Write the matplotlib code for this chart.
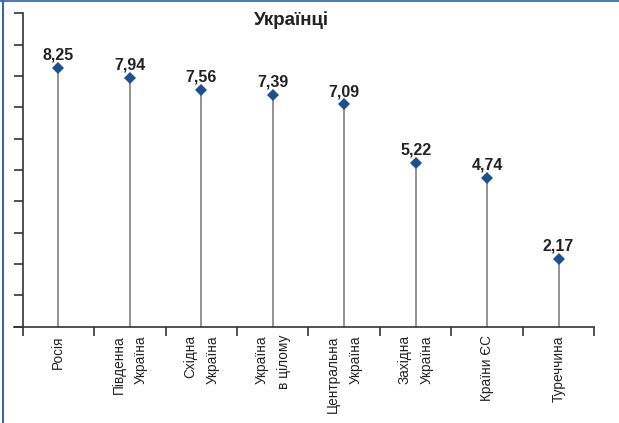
import matplotlib.pyplot as plt
from matplotlib.lines import Line2D

regions = ["Росія", "Південна\nУкраїна", "Східна\nУкраїна", "Україна\nв цілому",
           "Центральна\nУкраїна", "Західна\nУкраїна", "Країни ЄС", "Туреччина"]
scores = [8.25, 7.94, 7.56, 7.39, 7.09, 5.22, 4.74, 2.17]
score_labels = ["8,25", "7,94", "7,56", "7,39", "7,09", "5,22", "4,74", "2,17"]

plt.rcParams['font.family'] = ['Liberation Sans', 'DejaVu Sans']

fig = plt.figure(figsize=(6.19, 4.23), dpi=100)
ax = fig.add_axes([14 / 619, 1 - 326.7 / 423, 580.3 / 619, 313.4 / 423])

x = list(range(len(scores)))
ax.vlines(x, 0, scores, color='#8a8a8a', linewidth=1.3, zorder=2)
ax.plot(x, scores, linestyle='none', marker='D', markersize=6.6,
        color='#1f4f8f', markeredgewidth=0, zorder=3)

for xi, v, lab in zip(x, scores, score_labels):
    ax.annotate(lab, (xi, v), xytext=(0, 6), textcoords='offset points',
                ha='center', va='baseline', fontsize=11.5, fontweight='bold',
                family=['Liberation Sans Narrow', 'Liberation Sans', 'DejaVu Sans'],
                color='#222222')

ax.set_xlim(-0.62, 7.5)
ax.set_ylim(0, 10)

for s in ['top', 'right']:
    ax.spines[s].set_visible(False)
ax.spines['left'].set_position(('data', -0.5))
ax.spines['left'].set_color('#333333')
ax.spines['bottom'].set_color('#333333')
ax.spines['left'].set_linewidth(1.2)
ax.spines['bottom'].set_linewidth(1.2)

ax.set_yticks(range(0, 11))
ax.set_yticklabels([])
ax.tick_params(axis='y', length=6.5, width=1.2, color='#333333')

ax.set_xticks(x)
ax.set_xticklabels(regions, rotation=90, fontsize=9.8, multialignment='right',
                   linespacing=1.75, color='#222222')
ax.set_xticks([i - 0.5 for i in range(len(scores) + 1)], minor=True)
ax.tick_params(axis='x', which='major', length=0, pad=6)
ax.tick_params(axis='x', which='minor', length=6.5, width=1.2, color='#333333')

fig.text(291.7 / 619, 1 - 25 / 423, "Українці", ha='center', va='baseline',
         fontsize=13.5, fontweight='bold', color='#222222')

# frame lines along the top and left edge
fig.add_artist(Line2D([0, 1], [1 - 1 / 423, 1 - 1 / 423], transform=fig.transFigure,
                      color='#4f7bb2', linewidth=1.5))
fig.add_artist(Line2D([2.7 / 619, 2.7 / 619], [0, 1], transform=fig.transFigure,
                      color='#3a68a6', linewidth=1.5))

fig.savefig("out.png", dpi=100)
